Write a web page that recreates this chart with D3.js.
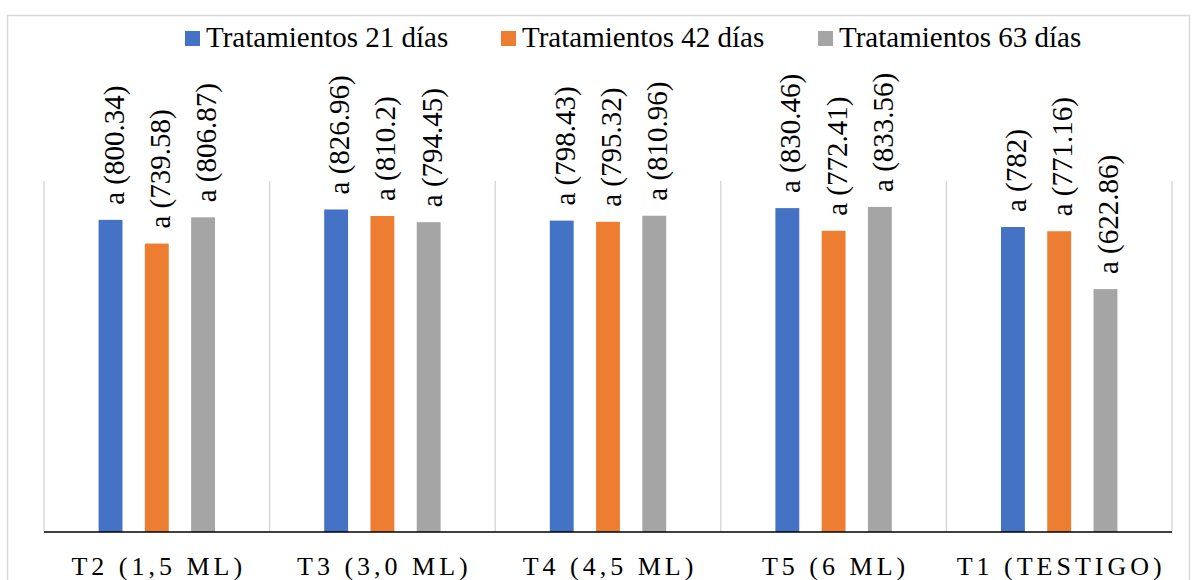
<!DOCTYPE html>
<html>
<head>
<meta charset="utf-8">
<script src="https://cdn.jsdelivr.net/npm/d3@7"></script>
<style>
  html, body { margin: 0; padding: 0; background: #fff; }
</style>
</head>
<body>
<svg id="chart" width="1197" height="580"></svg>
<script>
// Treatments (x categories) and the three sampling dates (series)
const categories = ["T2 (1,5 ML)", "T3 (3,0 ML)", "T4 (4,5 ML)", "T5 (6 ML)", "T1 (TESTIGO)"];
const seriesNames = ["Tratamientos 21 días", "Tratamientos 42 días", "Tratamientos 63 días"];
const seriesColors = ["#4472C4", "#ED7D31", "#A5A5A5"];
const values21 = [800.34, 826.96, 798.43, 830.46, 782];
const values42 = [739.58, 810.2, 795.32, 772.41, 771.16];
const values63 = [806.87, 794.45, 810.96, 833.56, 622.86];
const labels21 = ["800.34", "826.96", "798.43", "830.46", "782"];
const labels42 = ["739.58", "810.2", "795.32", "772.41", "771.16"];
const labels63 = ["806.87", "794.45", "810.96", "833.56", "622.86"];
const significance = ["a", "a", "a", "a", "a"];
const yDomain = [0, 900];

const seriesValues = [values21, values42, values63];
const seriesLabels = [labels21, labels42, labels63];
const serif = "'Liberation Serif'";

const svg = d3.select("#chart");

// outer chart frame
svg.append("rect")
  .attr("x", 7.5).attr("y", 15.5)
  .attr("width", 1182).attr("height", 620)
  .attr("fill", "none").attr("stroke", "#D9D9D9").attr("stroke-width", 1.5);

const plot = { left: 44, right: 1172, top: 181, bottom: 532 };

const x0 = d3.scaleBand().domain(categories).range([plot.left, plot.right]).padding(0);
const x1 = d3.scaleBand().domain(seriesNames).range([0, x0.bandwidth()])
  .paddingInner(0.484).paddingOuter(1.18);
const y = d3.scaleLinear().domain(yDomain).range([plot.bottom, plot.top]);

// vertical separators between categories
const bounds = categories.map(c => x0(c)).concat([plot.right]);
svg.selectAll("line.sep").data(bounds).join("line")
  .attr("class", "sep")
  .attr("x1", d => d).attr("x2", d => d)
  .attr("y1", plot.top).attr("y2", plot.bottom)
  .attr("stroke", "#D9D9D9").attr("stroke-width", 1.5);

// bars and rotated value labels
const rows = [];
categories.forEach((c, i) => {
  seriesNames.forEach((s, j) => {
    rows.push({ cat: c, series: s, color: seriesColors[j], value: seriesValues[j][i],
                label: significance[i] + " (" + seriesLabels[j][i] + ")" });
  });
});

svg.selectAll("rect.bar").data(rows).join("rect")
  .attr("class", "bar")
  .attr("x", d => x0(d.cat) + x1(d.series))
  .attr("y", d => y(d.value))
  .attr("width", x1.bandwidth())
  .attr("height", d => y(0) - y(d.value))
  .attr("fill", d => d.color);

svg.selectAll("text.val").data(rows).join("text")
  .attr("class", "val")
  .attr("transform", d => {
    const cx = x0(d.cat) + x1(d.series) + x1.bandwidth() / 2 + 13;
    const ty = y(d.value) - 15;
    return `translate(${cx},${ty}) rotate(-90)`;
  })
  .style("font-family", serif, "important")
  .style("font-size", "29px", "important")
  .text(d => d.label);

// category axis baseline
svg.append("line")
  .attr("x1", plot.left).attr("x2", plot.right)
  .attr("y1", plot.bottom).attr("y2", plot.bottom)
  .attr("stroke", "#000").attr("stroke-width", 1.5);

// category labels, placed with the band scale
svg.selectAll("text.cat").data(categories).join("text")
  .attr("class", "cat")
  .attr("x", d => x0(d) + x0.bandwidth() / 2 + 2)
  .attr("y", plot.bottom + 43)
  .attr("text-anchor", "middle")
  .style("font-family", serif, "important")
  .style("font-size", "26px", "important")
  .attr("letter-spacing", 4)
  .text(d => d);

// legend
const legendX = [185, 501, 818];
svg.selectAll("rect.key").data(seriesNames).join("rect")
  .attr("class", "key")
  .attr("x", (d, i) => legendX[i]).attr("y", 31)
  .attr("width", 15).attr("height", 15)
  .attr("fill", (d, i) => seriesColors[i]);
svg.selectAll("text.key").data(seriesNames).join("text")
  .attr("class", "key")
  .attr("x", (d, i) => legendX[i] + 21).attr("y", 47)
  .style("font-family", serif, "important")
  .style("font-size", "29px", "important")
  .text(d => d);
</script>
</body>
</html>
